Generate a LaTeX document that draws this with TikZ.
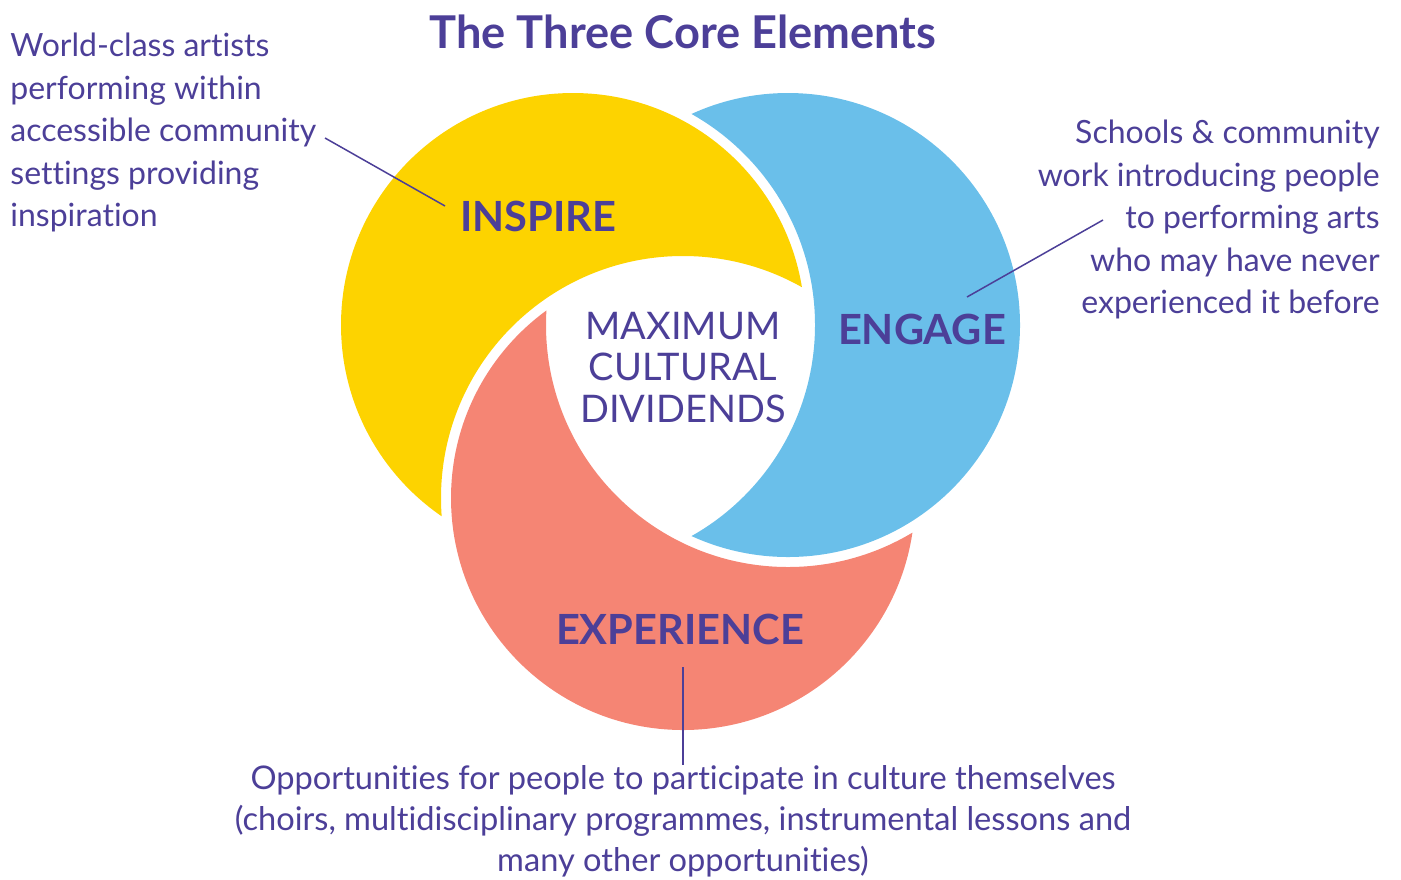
\documentclass[tikz,border=0pt]{standalone}
\usepackage{fontspec}
\setmainfont{Lato}[Ligatures=NoCommon]

\definecolor{corepurple}{HTML}{4C3F98}
\definecolor{coreyellow}{HTML}{FDD300}
\definecolor{coreblue}{HTML}{6ABFEA}
\definecolor{coresalmon}{HTML}{F58574}

\tikzset{
	desc/.style={text=corepurple, inner sep=0pt, font=\fontsize{16}{21.25}\selectfont},
	element/.style={text=corepurple, inner sep=0pt, font=\fontsize{20.8}{24}\selectfont\bfseries},
	leader/.style={draw=corepurple, line width=0.75pt},
}

\begin{document}
\begin{tikzpicture}[x=0.5pt, y=0.5pt]
		\useasboundingbox (0,0) rectangle (1401,-879);

		% circle centres
		\coordinate (Y) at (573,-325);
		\coordinate (B) at (788,-325);
		\coordinate (S) at (683,-498);

		% each ring is cut by the next one plus a white gap
		\foreach \c/\n/\col in {Y/S/coreyellow, B/Y/coreblue, S/B/coresalmon}
		{
			\begin{scope}
				\clip (\c) circle (232);
				\fill[\col, even odd rule] (0,0) rectangle (1401,-879) (\n) circle (242);
			\end{scope}
		}

		\node[text=corepurple, inner sep=0pt, anchor=base, font=\fontsize{22.6}{26}\selectfont\bfseries] (title) at (683,-48) {The Three Core Elements};

		\node[element, anchor=base] (inspire) at (538,-231) {INSPIRE};
		\node[element, anchor=base] (engage) at (922,-344) {ENGAGE};
		\node[element, anchor=base] (experience) at (680,-644) {EXPERIENCE};
		\node[text=corepurple, inner sep=0pt, align=center, anchor=north, font=\fontsize{19}{20.6}\selectfont] (dividends) at (683,-312) {MAXIMUM\\CULTURAL\\DIVIDENDS};

		\node[desc, align=left, anchor=north west] (inspiredesc) at (10,-33) {World-class artists\\performing within\\accessible community\\settings providing\\inspiration};
		\node[desc, align=right, anchor=north east] (engagedesc) at (1380,-120) {Schools \& community\\work introducing people\\to performing arts\\who may have never\\experienced it before};
		\node[desc, align=center, anchor=north, font=\fontsize{16.3}{20.6}\selectfont] (experiencedesc) at (683,-765) {Opportunities for people to participate in culture themselves\\(choirs, multidisciplinary programmes, instrumental lessons and\\many other opportunities)};

		\coordinate (inspirefoot) at (325,-138);
		\coordinate (inspiretip) at (445,-206);
		\coordinate (engagefoot) at (1103,-220);
		\coordinate (engagetip) at (967,-297);
		\coordinate (experiencetip) at (683,-667);
		\draw[leader] (inspirefoot) -- (inspiretip);
		\draw[leader] (engagefoot) -- (engagetip);
		\draw[leader] (experiencetip) -- (experiencedesc.north -| experiencetip);
	\end{tikzpicture}
\end{document}
